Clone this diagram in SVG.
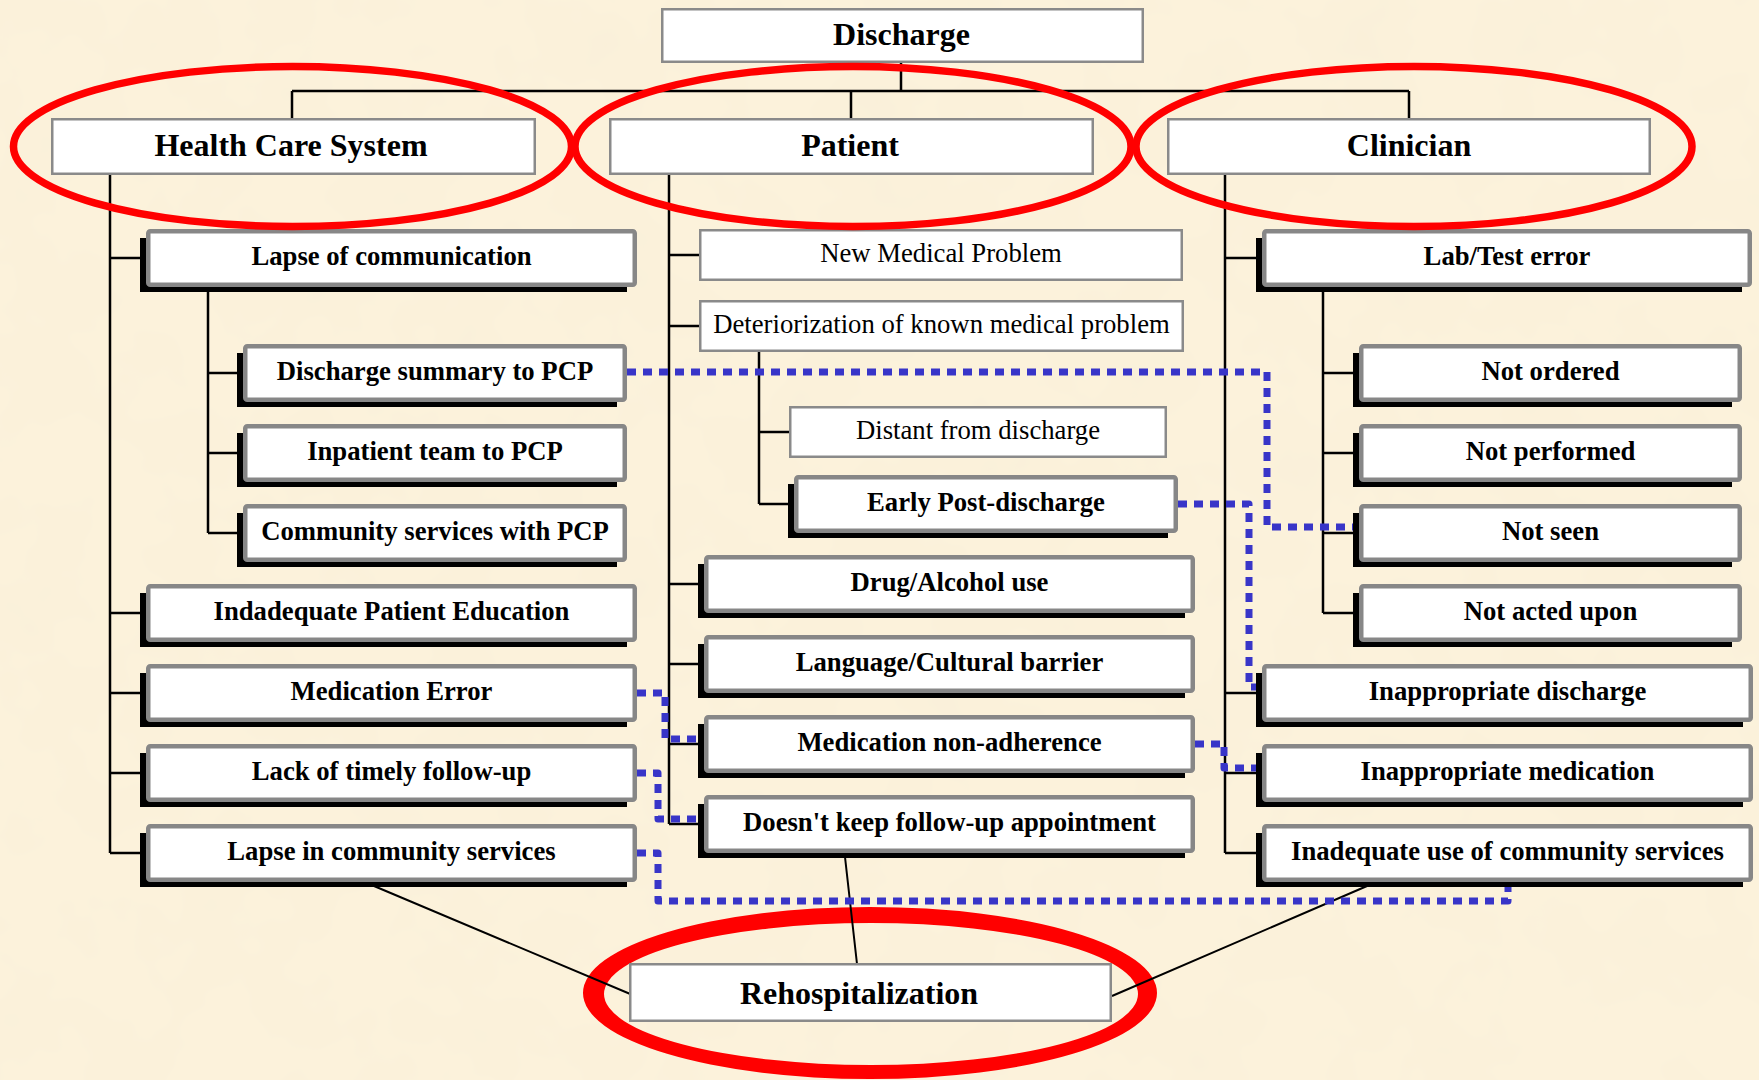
<svg xmlns="http://www.w3.org/2000/svg" width="1759" height="1080" viewBox="0 0 1759 1080">
  <defs>
    <style>
      .plain { fill: #ffffff; stroke: #8a8a8a; stroke-width: 2.5; }
      .shadow { fill: #000000; }
      .face { fill: #ffffff; stroke: #878787; stroke-width: 4.5; }
      .head { font-family: "Liberation Serif", "Times New Roman", serif; font-weight: bold; font-size: 32px; fill: #000; text-anchor: middle; }
      .lb { font-family: "Liberation Serif", "Times New Roman", serif; font-weight: bold; font-size: 26.7px; fill: #000; text-anchor: middle; }
      .lr { font-family: "Liberation Serif", "Times New Roman", serif; font-size: 26.7px; fill: #000; text-anchor: middle; }
      .wire { fill: none; stroke: #000; stroke-width: 2.5; }
      .link { fill: none; stroke: #000; stroke-width: 2; }
      .dash { fill: none; stroke: #3835c8; stroke-width: 7; stroke-dasharray: 9 7; stroke-linejoin: round; }
      .ring { fill: none; stroke: #ff0000; stroke-width: 7.5; }
    </style>
    <filter id="paper" x="0" y="0" width="100%" height="100%">
      <feTurbulence type="fractalNoise" baseFrequency="0.012" numOctaves="3" seed="7" result="n"/>
      <feColorMatrix in="n" type="matrix" values="0 0 0 0 0.93  0 0 0 0 0.85  0 0 0 0 0.68  0.8 0 0 0 -0.3"/>
    </filter>
  </defs>

  <!-- parchment background -->
  <rect width="1759" height="1080" fill="#fcf2db"/>
  <rect width="1759" height="1080" filter="url(#paper)"/>

  <!-- outcome ring behind its links -->
  <path id="ring-rehosp" fill="#ff0000" fill-rule="evenodd" d="M583 993 A287 86 0 1 0 1157 993 A287 86 0 1 0 583 993 Z M604 994 A267 71 0 1 0 1138 994 A267 71 0 1 0 604 994 Z"/>

  <!-- tree connectors -->
  <g id="connectors">
    <path class="wire" d="M901 63 V91 M292 91 H1409 M292 91 V118 M851 91 V118 M1409 91 V118"/>
    <!-- health care system branch -->
    <path class="wire" d="M110 175 V853 M110 258 H140 M110 613 H140 M110 693 H140 M110 773 H140 M110 853 H140"/>
    <path class="wire" d="M208 287 V533 M208 373 H237 M208 453 H237 M208 533 H237"/>
    <!-- patient branch -->
    <path class="wire" d="M669 175 V824 M669 255 H699 M669 326 H699 M669 584 H698 M669 664 H698 M669 744 H698 M669 824 H698"/>
    <path class="wire" d="M759 352 V504 M759 432 H789 M759 504 H788"/>
    <!-- clinician branch -->
    <path class="wire" d="M1225 175 V853 M1225 258 H1256 M1225 693 H1256 M1225 773 H1256 M1225 853 H1256"/>
    <path class="wire" d="M1323 287 V613 M1323 373 H1353 M1323 453 H1353 M1323 533 H1353 M1323 613 H1353"/>
    <!-- links into rehospitalization -->
    <path class="link" d="M374 886 L635 996 M845 857 L857 964 M1374 883 L1112 996"/>
    <!-- cross links -->
    <path class="dash" d="M627 372 H1267 V527 H1359"/>
    <path class="dash" d="M1178 504 H1249 V687 H1262"/>
    <path class="dash" d="M637 693 H665 V739 H704"/>
    <path class="dash" d="M637 773 H658 V819 H704"/>
    <path class="dash" d="M637 853 H658 V901 H1508 V883"/>
    <path class="dash" d="M1195 744 H1224 V768 H1262"/>
  </g>

  <!-- top level -->
  <g id="n-discharge"><rect class="plain" x="662.25" y="9.25" width="480.5" height="52.5"/><text class="head" x="901.5" y="45">Discharge</text></g>
  <g id="n-hcs"><rect class="plain" x="52.25" y="119.25" width="482.5" height="54.5"/><text class="head" x="291" y="156">Health Care System</text></g>
  <g id="n-patient"><rect class="plain" x="610.25" y="119.25" width="482.5" height="54.5"/><text class="head" x="850" y="156">Patient</text></g>
  <g id="n-clinician"><rect class="plain" x="1168.25" y="119.25" width="481.5" height="54.5"/><text class="head" x="1409" y="156">Clinician</text></g>

  <!-- health care system causes -->
  <g id="n-lapse-comm"><rect class="shadow" x="140" y="238" width="487" height="54"/><rect class="face" x="148.25" y="231.25" width="486.5" height="53.5" rx="2"/><text class="lb" x="391.5" y="265">Lapse of communication</text></g>
  <g id="n-ds-pcp"><rect class="shadow" x="237" y="353" width="380" height="54"/><rect class="face" x="245.25" y="346.25" width="379.5" height="53.5" rx="2"/><text class="lb" x="435" y="380">Discharge summary to PCP</text></g>
  <g id="n-team-pcp"><rect class="shadow" x="237" y="433" width="380" height="54"/><rect class="face" x="245.25" y="426.25" width="379.5" height="53.5" rx="2"/><text class="lb" x="435" y="460">Inpatient team to PCP</text></g>
  <g id="n-comm-pcp"><rect class="shadow" x="237" y="513" width="380" height="54"/><rect class="face" x="245.25" y="506.25" width="379.5" height="53.5" rx="2"/><text class="lb" x="435" y="540">Community services with PCP</text></g>
  <g id="n-education"><rect class="shadow" x="140" y="593" width="487" height="54"/><rect class="face" x="148.25" y="586.25" width="486.5" height="53.5" rx="2"/><text class="lb" x="391.5" y="620">Indadequate Patient Education</text></g>
  <g id="n-med-error"><rect class="shadow" x="140" y="673" width="487" height="54"/><rect class="face" x="148.25" y="666.25" width="486.5" height="53.5" rx="2"/><text class="lb" x="391.5" y="700">Medication Error</text></g>
  <g id="n-followup"><rect class="shadow" x="140" y="753" width="487" height="54"/><rect class="face" x="148.25" y="746.25" width="486.5" height="53.5" rx="2"/><text class="lb" x="391.5" y="780">Lack of timely follow-up</text></g>
  <g id="n-lapse-comm-svc"><rect class="shadow" x="140" y="833" width="487" height="54"/><rect class="face" x="148.25" y="826.25" width="486.5" height="53.5" rx="2"/><text class="lb" x="391.5" y="860">Lapse in community services</text></g>

  <!-- patient causes -->
  <g id="n-new-problem"><rect class="plain" x="700.25" y="230.25" width="481.5" height="49.5"/><text class="lr" x="941" y="262">New Medical Problem</text></g>
  <g id="n-deterioration"><rect class="plain" x="700.25" y="301.25" width="482.5" height="49.5"/><text class="lr" x="941.5" y="333">Deteriorization of known medical problem</text></g>
  <g id="n-distant"><rect class="plain" x="790.25" y="407.25" width="375.5" height="49.5"/><text class="lr" x="978" y="439">Distant from discharge</text></g>
  <g id="n-early"><rect class="shadow" x="788" y="484" width="380" height="54"/><rect class="face" x="796.25" y="477.25" width="379.5" height="53.5" rx="2"/><text class="lb" x="986" y="511">Early Post-discharge</text></g>
  <g id="n-drug"><rect class="shadow" x="698" y="564" width="487" height="54"/><rect class="face" x="706.25" y="557.25" width="486.5" height="53.5" rx="2"/><text class="lb" x="949.5" y="591">Drug/Alcohol use</text></g>
  <g id="n-language"><rect class="shadow" x="698" y="644" width="487" height="54"/><rect class="face" x="706.25" y="637.25" width="486.5" height="53.5" rx="2"/><text class="lb" x="949.5" y="671">Language/Cultural barrier</text></g>
  <g id="n-nonadherence"><rect class="shadow" x="698" y="724" width="487" height="54"/><rect class="face" x="706.25" y="717.25" width="486.5" height="53.5" rx="2"/><text class="lb" x="949.5" y="751">Medication non-adherence</text></g>
  <g id="n-appointment"><rect class="shadow" x="698" y="804" width="487" height="54"/><rect class="face" x="706.25" y="797.25" width="486.5" height="53.5" rx="2"/><text class="lb" x="949.5" y="831">Doesn't keep follow-up appointment</text></g>

  <!-- clinician causes -->
  <g id="n-lab"><rect class="shadow" x="1256" y="238" width="486" height="54"/><rect class="face" x="1264.25" y="231.25" width="485.5" height="53.5" rx="2"/><text class="lb" x="1507" y="265">Lab/Test error</text></g>
  <g id="n-not-ordered"><rect class="shadow" x="1353" y="353" width="379" height="54"/><rect class="face" x="1361.25" y="346.25" width="378.5" height="53.5" rx="2"/><text class="lb" x="1550.5" y="380">Not ordered</text></g>
  <g id="n-not-performed"><rect class="shadow" x="1353" y="433" width="379" height="54"/><rect class="face" x="1361.25" y="426.25" width="378.5" height="53.5" rx="2"/><text class="lb" x="1550.5" y="460">Not performed</text></g>
  <g id="n-not-seen"><rect class="shadow" x="1353" y="513" width="379" height="54"/><rect class="face" x="1361.25" y="506.25" width="378.5" height="53.5" rx="2"/><text class="lb" x="1550.5" y="540">Not seen</text></g>
  <g id="n-not-acted"><rect class="shadow" x="1353" y="593" width="379" height="54"/><rect class="face" x="1361.25" y="586.25" width="378.5" height="53.5" rx="2"/><text class="lb" x="1550.5" y="620">Not acted upon</text></g>
  <g id="n-inappr-discharge"><rect class="shadow" x="1256" y="673" width="487" height="54"/><rect class="face" x="1264.25" y="666.25" width="486.5" height="53.5" rx="2"/><text class="lb" x="1507.5" y="700">Inappropriate discharge</text></g>
  <g id="n-inappr-med"><rect class="shadow" x="1256" y="753" width="487" height="54"/><rect class="face" x="1264.25" y="746.25" width="486.5" height="53.5" rx="2"/><text class="lb" x="1507.5" y="780">Inappropriate medication</text></g>
  <g id="n-community-use"><rect class="shadow" x="1256" y="833" width="487" height="54"/><rect class="face" x="1264.25" y="826.25" width="486.5" height="53.5" rx="2"/><text class="lb" x="1507.5" y="860">Inadequate use of community services</text></g>

  <!-- outcome -->
  <g id="n-rehosp"><rect class="plain" x="630.25" y="964.25" width="480.5" height="56.5"/><text class="head" x="859" y="1004">Rehospitalization</text></g>

  <!-- category rings -->
  <g id="rings">
    <ellipse class="ring" cx="292.5" cy="146.5" rx="279" ry="80"/>
    <ellipse class="ring" cx="853" cy="146.5" rx="278" ry="80"/>
    <ellipse class="ring" cx="1414" cy="146.5" rx="278" ry="80"/>
  </g>
</svg>
